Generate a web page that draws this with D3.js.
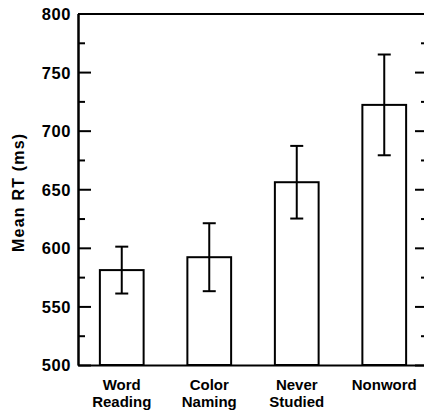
<!DOCTYPE html>
<html>
<head>
<meta charset="utf-8">
<script src="https://cdnjs.cloudflare.com/ajax/libs/d3/7.8.5/d3.min.js"></script>
<style>
    body { margin: 0; background: #fff; }
    svg text { font-family: "Liberation Sans", Arial, sans-serif; font-weight: bold; fill: #000; }
    .axis path, .axis line { stroke: #000; stroke-width: 2px; }
</style>
</head>
<body>
<div id="chart"></div>
<script>
// data
var categories = ["Word Reading", "Color Naming", "Never Studied", "Nonword"];
var labelLines = [["Word", "Reading"], ["Color", "Naming"], ["Never", "Studied"], ["Nonword"]];
var meanRT = [581, 592, 656, 722];
var errRT = [20, 29, 31, 43];
var majorTicks = [500, 550, 600, 650, 700, 750, 800];
var minorTicks = [525, 575, 625, 675, 725, 775];

var W = 424, H = 416;
var margin = {top: 13.5, left: 78, right: -4, bottom: 51};
var width = W - margin.left - margin.right;
var height = H - margin.top - margin.bottom;

var svg = d3.select("#chart").append("svg")
    .attr("width", W)
    .attr("height", H)
    .append("g")
    .attr("transform", "translate(" + margin.left + "," + margin.top + ")");

var x = d3.scaleBand()
    .domain(categories)
    .range([0, width])
    .paddingInner(0.5)
    .paddingOuter(0.25);

var y = d3.scaleLinear()
    .domain([500, 800])
    .range([height, 0]);

// bars
svg.selectAll(".bar")
    .data(categories)
    .enter().append("rect")
    .attr("class", "bar")
    .attr("x", d => x(d))
    .attr("width", x.bandwidth())
    .attr("y", (d, i) => y(meanRT[i]))
    .attr("height", (d, i) => height - y(meanRT[i]))
    .attr("fill", "#fff")
    .attr("stroke", "#000")
    .attr("stroke-width", 2);

// error bars (vertical line + two caps)
var capW = 13;
var eb = svg.selectAll(".err")
    .data(categories)
    .enter().append("g")
    .attr("class", "err")
    .attr("stroke", "#000")
    .attr("stroke-width", 2);
eb.append("line")
    .attr("x1", d => x(d) + x.bandwidth() / 2)
    .attr("x2", d => x(d) + x.bandwidth() / 2)
    .attr("y1", (d, i) => y(meanRT[i] + errRT[i]))
    .attr("y2", (d, i) => y(meanRT[i] - errRT[i]));
eb.append("line")
    .attr("x1", d => x(d) + x.bandwidth() / 2 - capW / 2)
    .attr("x2", d => x(d) + x.bandwidth() / 2 + capW / 2)
    .attr("y1", (d, i) => y(meanRT[i] + errRT[i]))
    .attr("y2", (d, i) => y(meanRT[i] + errRT[i]));
eb.append("line")
    .attr("x1", d => x(d) + x.bandwidth() / 2 - capW / 2)
    .attr("x2", d => x(d) + x.bandwidth() / 2 + capW / 2)
    .attr("y1", (d, i) => y(meanRT[i] - errRT[i]))
    .attr("y2", (d, i) => y(meanRT[i] - errRT[i]));

// left axis: major ticks point inward, labels outside
var yLeft = svg.append("g")
    .attr("class", "axis")
    .call(d3.axisLeft(y).tickValues(majorTicks).tickSizeInner(-13).tickSizeOuter(0));
yLeft.selectAll("text")
    .style("font-size", "16.5px")
    .style("letter-spacing", "0.6px")
    .attr("x", -7)
    .attr("dy", "0.36em");

svg.append("g")
    .attr("class", "axis")
    .call(d3.axisLeft(y).tickValues(minorTicks).tickSizeInner(-7).tickSizeOuter(0).tickFormat(""));

// right axis (mostly cut off by the window edge)
svg.append("g")
    .attr("class", "axis")
    .attr("transform", "translate(" + width + ",0)")
    .call(d3.axisRight(y).tickValues(majorTicks).tickSizeInner(-13).tickSizeOuter(0).tickFormat(""));
svg.append("g")
    .attr("class", "axis")
    .attr("transform", "translate(" + width + ",0)")
    .call(d3.axisRight(y).tickValues(minorTicks).tickSizeInner(-7).tickSizeOuter(0).tickFormat(""));

// top and bottom frame lines
svg.append("g")
    .attr("class", "axis")
    .call(d3.axisTop(x).tickValues([]).tickSizeOuter(0));
svg.append("g")
    .attr("class", "axis")
    .attr("transform", "translate(0," + height + ")")
    .call(d3.axisBottom(x).tickValues([]).tickSizeOuter(0));

// category labels, one or two lines each
svg.selectAll(".cat")
    .data(categories)
    .enter().append("text")
    .attr("class", "cat")
    .attr("text-anchor", "middle")
    .style("font-size", "15px")
    .attr("transform", d => "translate(" + (x(d) + x.bandwidth() / 2) + "," + (height + 24.5) + ")")
    .selectAll("tspan")
    .data((d, i) => labelLines[i])
    .enter().append("tspan")
    .attr("x", 0)
    .attr("dy", (d, j) => j === 0 ? 0 : 17)
    .text(d => d);

// y axis title
svg.append("text")
    .attr("transform", "rotate(-90)")
    .attr("x", -(y(650) + 3))
    .attr("y", 24 - margin.left)
    .attr("text-anchor", "middle")
    .style("font-size", "16px")
    .style("letter-spacing", "1.2px")
    .text("Mean RT (ms)");
</script>
</body>
</html>
